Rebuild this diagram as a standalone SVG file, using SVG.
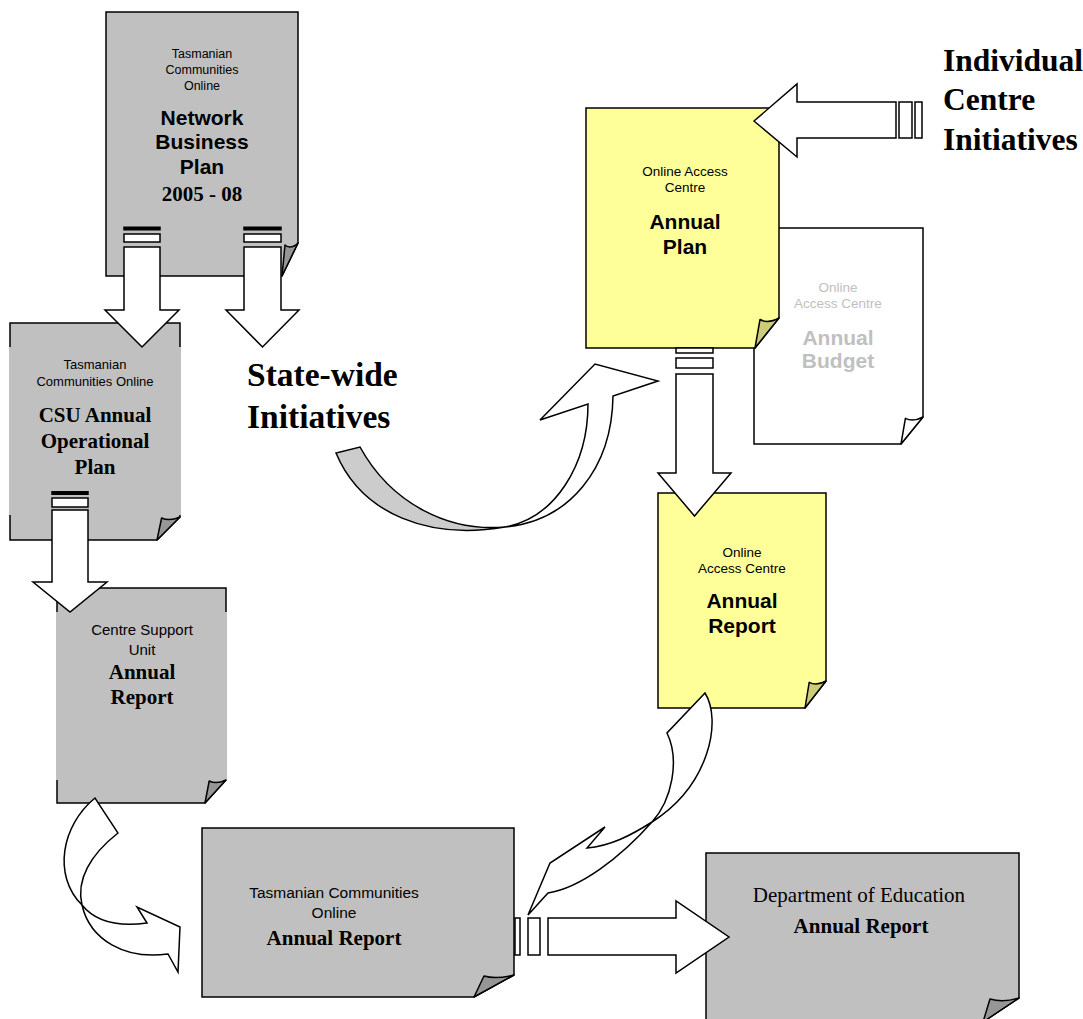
<svg xmlns="http://www.w3.org/2000/svg" width="1083" height="1019" viewBox="0 0 1083 1019">
<style>
.page{stroke:#000;stroke-width:1.5;stroke-linejoin:miter}
.gray{fill:#c0c0c0}
.yel{fill:#ffff99}
.wht{fill:#fff}
.fg{fill:#969696;stroke:#000;stroke-width:1.5;stroke-linejoin:round}
.fy{fill:#cccc7a;stroke:#000;stroke-width:1.5;stroke-linejoin:round}
.fw{fill:#fff;stroke:#000;stroke-width:1.5;stroke-linejoin:round}
.cover{fill:#c0c0c0;stroke:none}
.s{font-family:"Liberation Sans",Arial,sans-serif;text-anchor:middle;fill:#000}
.sb{font-family:"Liberation Sans",Arial,sans-serif;text-anchor:middle;font-weight:bold;fill:#000}
.t{font-family:"Liberation Serif","Times New Roman",serif;text-anchor:middle;fill:#000}
.tb{font-family:"Liberation Serif","Times New Roman",serif;text-anchor:middle;font-weight:bold;fill:#000}
.lbl{font-family:"Liberation Serif","Times New Roman",serif;font-weight:bold;fill:#000}
.lt{fill:#c0c0c0}
.ar{fill:#fff;stroke:#000;stroke-width:1.5;stroke-linejoin:miter}
.bar{fill:#000;stroke:none}
.arg{fill:#cccccc;stroke:#000;stroke-width:1.5;stroke-linejoin:miter}
</style>

<g id="node-network-business-plan">
<path class="page gray" d="M106,12 H298 V243 L282,276 H106 Z"/>
<path class="fg" d="M298,243 Q291,250 285,245 L282,276 Z"/>
<text class="s" x="202" y="58" font-size="12.5">Tasmanian</text>
<text class="s" x="202" y="74" font-size="12.5">Communities</text>
<text class="s" x="202" y="90" font-size="12.5">Online</text>
<text class="sb" x="202" y="125" font-size="21">Network</text>
<text class="sb" x="202" y="149" font-size="21">Business</text>
<text class="sb" x="202" y="174" font-size="21">Plan</text>
<text class="tb" x="202" y="201" font-size="21">2005 - 08</text>
</g>

<g id="node-csu-operational-plan">
<path class="page gray" d="M10,323 H180 V517 L157,540 H10 Z"/>
<rect class="cover" x="9" y="347" width="172" height="168"/>
<path class="fg" d="M180,517 Q169.6,521.6 161.6,518 L157,540 Z"/>
<text class="s" x="95" y="369" font-size="13">Tasmanian</text>
<text class="s" x="95" y="386" font-size="13">Communities Online</text>
<text class="tb" x="95" y="422" font-size="21">CSU Annual</text>
<text class="tb" x="95" y="448" font-size="21">Operational</text>
<text class="tb" x="95" y="474" font-size="21">Plan</text>
</g>

<g id="node-csu-annual-report">
<path class="page gray" d="M57,588 H226 V780 L205,803 H57 Z"/>
<rect class="cover" x="56" y="612" width="171" height="168"/>
<path class="fg" d="M226,780 Q216.6,784.6 209.2,781 L205,803 Z"/>
<text class="s" x="142" y="635" font-size="15">Centre Support</text>
<text class="s" x="142" y="655" font-size="15">Unit</text>
<text class="tb" x="142" y="679" font-size="21">Annual</text>
<text class="tb" x="142" y="704" font-size="21">Report</text>
</g>

<g id="node-tco-annual-report">
<path class="page gray" d="M202,828 H514 V975 L474,997 H202 Z"/>
<path class="fg" d="M514,975 Q496,979.4 484,976 L474,997 Z"/>
<text class="s" x="334" y="898" font-size="15.5">Tasmanian Communities</text>
<text class="s" x="334" y="918" font-size="15.5">Online</text>
<text class="tb" x="334" y="945" font-size="21">Annual Report</text>
</g>

<g id="node-doe-annual-report">
<path class="page gray" d="M706,853 H1019 V998 L983,1022 H706 Z"/>
<path class="fg" d="M1019,998 Q1003,1003 990,999 L983,1022 Z"/>
<text class="t" x="859" y="902" font-size="21">Department of Education</text>
<text class="tb" x="861" y="933" font-size="21">Annual Report</text>
</g>

<g id="node-oac-annual-budget">
<path class="page wht" d="M754,228 H923 V417 L901,444 H754 Z"/>
<path class="fw" d="M923,417 Q913.1,422.4 905.4,418.4 L901,444 Z"/>
<text class="s lt" x="838" y="292" font-size="13.5">Online</text>
<text class="s lt" x="838" y="308" font-size="13.5">Access Centre</text>
<text class="sb lt" x="838" y="345" font-size="21">Annual</text>
<text class="sb lt" x="838" y="368" font-size="21">Budget</text>
</g>

<g id="node-oac-annual-plan">
<path class="page yel" d="M586,108 H779 V318 L755,348 H586 Z"/>
<path class="fy" d="M779,318 Q768,324 760,319.5 L755,348 Z"/>
<text class="s" x="685" y="176" font-size="13.5">Online Access</text>
<text class="s" x="685" y="192" font-size="13.5">Centre</text>
<text class="sb" x="685" y="229" font-size="21">Annual</text>
<text class="sb" x="685" y="254" font-size="21">Plan</text>
</g>

<g id="node-oac-annual-report">
<path class="page yel" d="M658,493 H826 V681 L805,708 H658 Z"/>
<path class="fy" d="M826,681 Q816.6,686.4 809.2,682.4 L805,708 Z"/>
<text class="s" x="742" y="557" font-size="13.5">Online</text>
<text class="s" x="742" y="573" font-size="13.5">Access Centre</text>
<text class="sb" x="742" y="608" font-size="21">Annual</text>
<text class="sb" x="742" y="633" font-size="21">Report</text>
</g>

<g id="label-state-wide">
<text class="lbl" x="247" y="386" font-size="33.5">State-wide</text>
<text class="lbl" x="247" y="428" font-size="33.5">Initiatives</text>
</g>

<g id="label-individual">
<text class="lbl" x="943" y="71" font-size="31.5">Individual</text>
<text class="lbl" x="943" y="110" font-size="31.5">Centre</text>
<text class="lbl" x="943" y="150" font-size="31.5">Initiatives</text>
</g>

<g id="connectors">
<!-- Network Business Plan -> CSU Operational Plan -->
<rect class="bar" x="123.25" y="226.5" width="37.5" height="4"/>
<rect class="ar" x="124" y="234" width="36" height="8"/>
<polygon class="ar" points="124,247 160,247 160,310 179,310 142,347 105,310 124,310"/>
<!-- Network Business Plan -> State-wide Initiatives -->
<rect class="bar" x="243.25" y="226.5" width="38.5" height="4"/>
<rect class="ar" x="244" y="234" width="37" height="8"/>
<polygon class="ar" points="244,247 281,247 281,310 299,310 262.5,347 226,310 244,310"/>
<!-- CSU Operational Plan -> CSU Annual Report -->
<rect class="bar" x="51.25" y="491" width="37.5" height="4"/>
<rect class="ar" x="52" y="498" width="36" height="9"/>
<polygon class="ar" points="52,510 88,510 88,582 107,582 70,612 33,582 52,582"/>
<!-- Annual Plan -> Annual Report -->
<rect class="ar" x="676" y="348" width="37" height="5"/>
<rect class="ar" x="676" y="358" width="37" height="10"/>
<polygon class="ar" points="676,374 713,374 713,473 731,473 694.5,516 658,473 676,473"/>
<!-- Individual Centre Initiatives -> Annual Plan -->
<polygon class="ar" points="754,121 797,84 797,102 896,102 896,138 797,138 797,157"/>
<rect class="ar" x="899" y="102" width="13" height="36"/>
<rect class="ar" x="915" y="102" width="7" height="36"/>
<!-- TCO Annual Report -> DoE Annual Report -->
<rect class="ar" x="515" y="918" width="5" height="37"/>
<rect class="ar" x="528" y="918" width="12" height="37"/>
<polygon class="ar" points="548,918 676,918 676,901 729,937 676,973 676,955 548,955"/>
<!-- State-wide Initiatives -> Annual Plan (curved) -->
<path class="arg" d="M336,453 C362,515 430,540 505,527 C450,532 392,505 360,447 Z"/>
<path class="ar" d="M505,527 C570,521 612,468 613,396 L658,381 L595,364 L540,420 L588,404 C588,465 555,518 505,527 Z"/>
<!-- CSU Annual Report -> TCO Annual Report (curved) -->
<path class="ar" d="M95,798 C62,825 52,875 82,905 C76,880 90,855 118,833 Z"/>
<path class="ar" d="M82,905 C98,925 125,926 147,923 L137,907 L180,927 L178,972 L168,954 C125,960 90,940 82,905 Z"/>
<!-- OAC Annual Report -> TCO Annual Report (curved) -->
<path class="ar" d="M705,693 C722,720 710,785 652,822 C672,800 680,760 667,733 Z"/>
<path class="ar" d="M652,822 C630,836 610,846 587,848 L605,827 L550,863 L528,915 L548,893 C580,888 620,858 652,822 Z"/>
</g>
</svg>
